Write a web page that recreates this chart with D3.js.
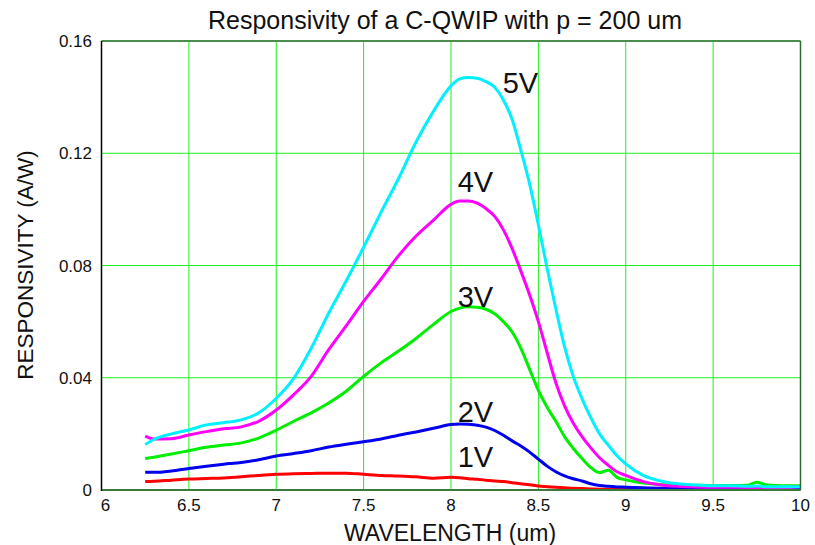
<!DOCTYPE html>
<html>
<head>
<meta charset="utf-8">
<script src="https://cdn.jsdelivr.net/npm/d3@7"></script>
<style>
  html, body { margin: 0; padding: 0; background: #ffffff; }
  svg { display: block; font-family: "Liberation Sans", Arial, sans-serif; }
</style>
</head>
<body>
<svg id="chart" width="815" height="545"></svg>
<script>
// Wavelength samples (um)
const wavelength = [6.25, 6.3, 6.4, 6.5, 6.6, 6.7, 6.8, 6.9, 7.0, 7.1, 7.2, 7.3, 7.4, 7.5, 7.6, 7.7, 7.8, 7.9,
  8.0, 8.05, 8.1, 8.15, 8.2, 8.25, 8.3, 8.35, 8.4, 8.45, 8.5, 8.55, 8.6, 8.65, 8.7, 8.75, 8.8, 8.85, 8.9, 8.95,
  9.0, 9.1, 9.2, 9.3, 9.4, 9.5, 9.6, 9.7, 9.75, 9.8, 9.9, 10.0];

// Responsivity (A/W) at each bias
const resp5V = [0.0162, 0.0180, 0.0200, 0.0214, 0.0232, 0.0240, 0.0250, 0.0275, 0.0327, 0.0398, 0.0505, 0.0630,
  0.0745, 0.0865, 0.0990, 0.1110, 0.1240, 0.1350, 0.1440, 0.1465, 0.1470, 0.1467, 0.1455, 0.1435, 0.1390,
  0.1320, 0.1210, 0.1090, 0.0945, 0.0790, 0.0645, 0.0510, 0.0404, 0.0325, 0.0258, 0.0200, 0.0160, 0.0122,
  0.0093, 0.0052, 0.0032, 0.0022, 0.0018, 0.0015, 0.0015, 0.0013, 0.0014, 0.0012, 0.0012, 0.0012];
const resp4V = [0.0192, 0.0182, 0.0183, 0.0196, 0.0208, 0.0218, 0.0225, 0.0245, 0.0285, 0.0340, 0.0405, 0.0500,
  0.0585, 0.0672, 0.0752, 0.0835, 0.0905, 0.0962, 0.1018, 0.1030, 0.1030, 0.1022, 0.1003, 0.0975, 0.0927,
  0.0860, 0.0780, 0.0695, 0.0600, 0.0490, 0.0382, 0.0300, 0.0238, 0.0190, 0.0150, 0.0115, 0.0088, 0.0065,
  0.0052, 0.0030, 0.0018, 0.0013, 0.0011, 0.0010, 0.0010, 0.0009, 0.0009, 0.0009, 0.0009, 0.0012];
const resp3V = [0.0112, 0.0117, 0.0128, 0.0140, 0.0152, 0.0160, 0.0168, 0.0185, 0.0213, 0.0245, 0.0275, 0.0310,
  0.0352, 0.0405, 0.0453, 0.0495, 0.0540, 0.0590, 0.0636, 0.0648, 0.0653, 0.0651, 0.0644, 0.0628, 0.0600,
  0.0563, 0.0505, 0.0430, 0.0355, 0.0295, 0.0245, 0.0190, 0.0148, 0.0112, 0.0080, 0.0062, 0.0070, 0.0045,
  0.0036, 0.0025, 0.0020, 0.0018, 0.0017, 0.0016, 0.0016, 0.0017, 0.0028, 0.0019, 0.0015, 0.0015];
const resp2V = [0.0063, 0.0063, 0.0068, 0.0077, 0.0085, 0.0092, 0.0098, 0.0108, 0.0121, 0.0130, 0.0140, 0.0153,
  0.0163, 0.0172, 0.0182, 0.0195, 0.0207, 0.0220, 0.0233, 0.0235, 0.0234, 0.0231, 0.0224, 0.0212, 0.0195,
  0.0175, 0.0157, 0.0135, 0.0110, 0.0085, 0.0065, 0.0050, 0.0040, 0.0032, 0.0022, 0.0016, 0.0013, 0.0011,
  0.0010, 0.0008, 0.0006, 0.0005, 0.0005, 0.0005, 0.0005, 0.0005, 0.0005, 0.0005, 0.0005, 0.0005];
const resp1V = [0.0030, 0.0031, 0.0035, 0.0039, 0.0041, 0.0043, 0.0047, 0.0052, 0.0056, 0.0058, 0.0059, 0.0060,
  0.0060, 0.0056, 0.0052, 0.0050, 0.0047, 0.0042, 0.0045, 0.0044, 0.0040, 0.0038, 0.0035, 0.0032, 0.0030,
  0.0026, 0.0022, 0.0019, 0.0014, 0.0012, 0.0010, 0.0008, 0.0006, 0.0005, 0.0004, 0.0003, 0.0003, 0.0003,
  0.0003, 0.0003, 0.0003, 0.0003, 0.0003, 0.0004, 0.0008, 0.0012, 0.0006, 0.0004, 0.0003, 0.0003];

const biasLabels = ["1V", "2V", "3V", "4V", "5V"];
const seriesValues = [resp1V, resp2V, resp3V, resp4V, resp5V];
const seriesColors = ["#ff0000", "#0000ee", "#00ee00", "#ff00ff", "#00f0ff"];

// Where each bias label sits, in data units (wavelength, responsivity at baseline)
const labelAnchors = [[8.038, 0.0082], [8.038, 0.0242], [8.038, 0.0652], [8.038, 0.1062], [8.296, 0.1415]];

const xTicks = [6, 6.5, 7, 7.5, 8, 8.5, 9, 9.5, 10];
const yTicks = [0, 0.04, 0.08, 0.12, 0.16];

const svg = d3.select("#chart");
const plot = { left: 101.5, right: 800.5, top: 41, bottom: 490 };

const x = d3.scaleLinear().domain([6, 10]).range([plot.left, plot.right]);
const y = d3.scaleLinear().domain([0, 0.16]).range([plot.bottom, plot.top]);

// Grid
const grid = svg.append("g");
grid.selectAll("line.vg").data(xTicks.slice(1, -1)).join("line")
  .attr("x1", d => x(d)).attr("x2", d => x(d))
  .attr("y1", plot.top).attr("y2", plot.bottom)
  .attr("stroke", "#1ff01f").attr("stroke-width", 1);
grid.selectAll("line.hg").data(yTicks.slice(1)).join("line")
  .attr("x1", plot.left).attr("x2", plot.right)
  .attr("y1", d => y(d)).attr("y2", d => y(d))
  .attr("stroke", "#1ff01f").attr("stroke-width", 1);

// Curves
const line = d3.line()
  .x((d, i) => x(wavelength[i]))
  .y(d => y(d))
  .curve(d3.curveMonotoneX);

svg.append("g").selectAll("path").data(seriesValues).join("path")
  .attr("d", d => line(d))
  .attr("fill", "none")
  .attr("stroke", (d, i) => seriesColors[i])
  .attr("stroke-width", 3)
  .attr("stroke-linejoin", "round");

// Frame
svg.append("line").attr("x1", plot.left).attr("x2", plot.right).attr("y1", plot.top).attr("y2", plot.top)
  .attr("stroke", "#4c8c4c").attr("stroke-width", 2);
svg.append("line").attr("x1", plot.right).attr("x2", plot.right).attr("y1", plot.top).attr("y2", plot.bottom)
  .attr("stroke", "#2f6a2f").attr("stroke-width", 1.5);
svg.append("line").attr("x1", plot.left).attr("x2", plot.right).attr("y1", plot.bottom).attr("y2", plot.bottom)
  .attr("stroke", "#3a7a3a").attr("stroke-width", 2);
svg.append("line").attr("x1", plot.left).attr("x2", plot.left).attr("y1", plot.top).attr("y2", plot.bottom + 1)
  .attr("stroke", "#000000").attr("stroke-width", 1.5);

// Tick labels
svg.append("g").selectAll("text").data(xTicks).join("text")
  .attr("x", d => x(d) + (d === 6 ? 4 : 0))
  .attr("y", 511)
  .attr("text-anchor", "middle")
  .attr("font-size", 17)
  .attr("fill", "#111")
  .text(d => d3.format("~g")(d));
svg.append("g").selectAll("text").data(yTicks).join("text")
  .attr("x", 92)
  .attr("y", d => y(d) + 6)
  .attr("text-anchor", "end")
  .attr("font-size", 17)
  .attr("fill", "#111")
  .text(d => d === 0 ? "0" : d3.format(".2f")(d));

// Titles
svg.append("text").attr("x", 445).attr("y", 29).attr("text-anchor", "middle")
  .attr("font-size", 25).attr("fill", "#111").text("Responsivity of a C-QWIP with p = 200 um");
svg.append("text").attr("x", 450).attr("y", 541).attr("text-anchor", "middle")
  .attr("font-size", 23).attr("fill", "#111").text("WAVELENGTH (um)");
svg.append("text").attr("transform", "translate(33,265) rotate(-90)").attr("text-anchor", "middle")
  .attr("font-size", 22.5).attr("fill", "#111").text("RESPONSIVITY (A/W)");

// Bias labels
svg.append("g").selectAll("text").data(biasLabels).join("text")
  .attr("x", (d, i) => x(labelAnchors[i][0]))
  .attr("y", (d, i) => y(labelAnchors[i][1]))
  .attr("font-size", 29)
  .attr("fill", "#111")
  .text(d => d);
</script>
</body>
</html>
